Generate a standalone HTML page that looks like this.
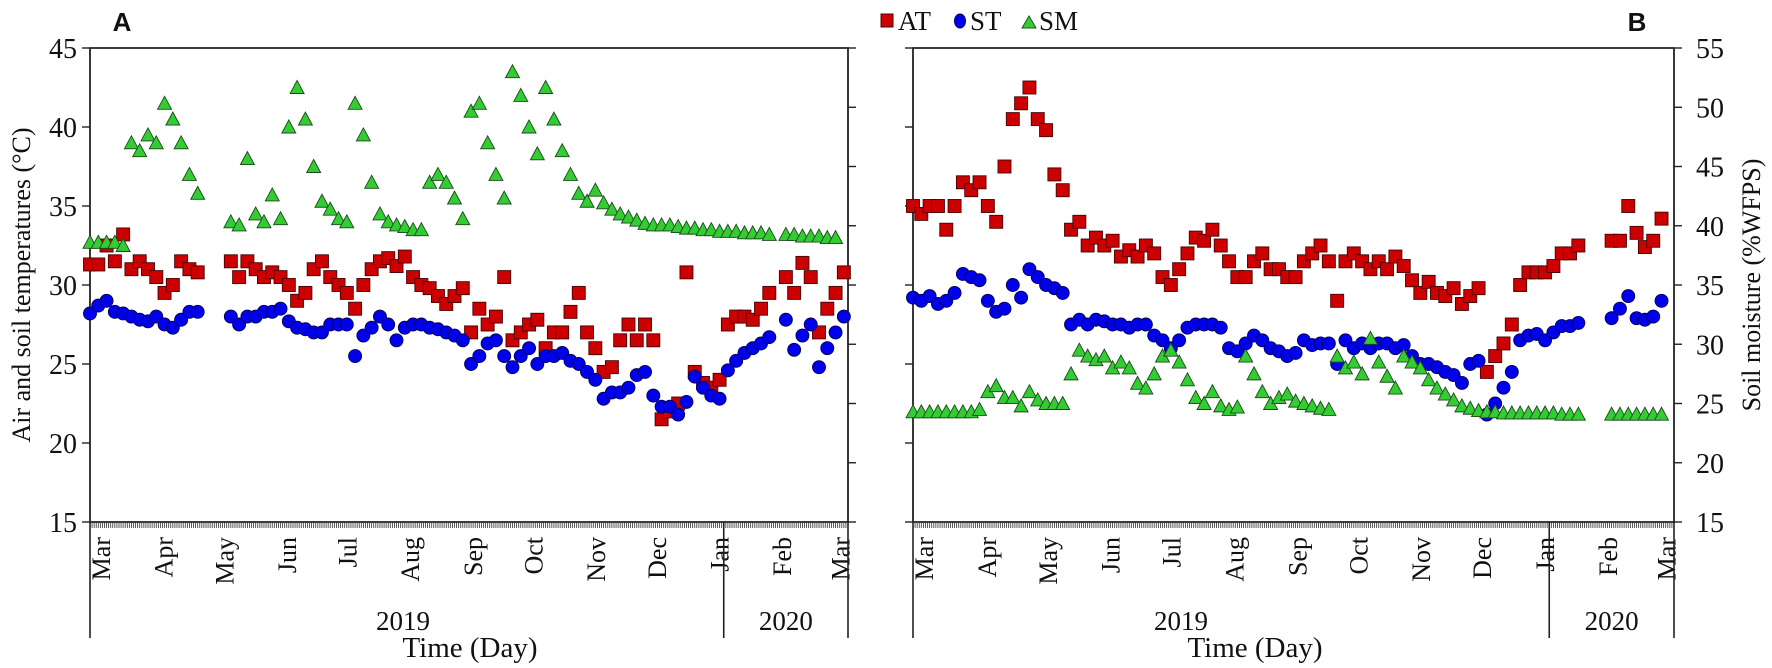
<!DOCTYPE html>
<html><head><meta charset="utf-8">
<style>
html,body{margin:0;padding:0;background:#fff;}
svg{display:block;}
text{font-family:"Liberation Serif",serif;fill:#111;}
</style></head>
<body>
<svg id="chart" width="1772" height="668" viewBox="0 0 1772 668" xmlns="http://www.w3.org/2000/svg">
  <text x="122" y="31" style="font-family:'Liberation Sans',sans-serif;font-weight:bold;font-size:26px" text-anchor="middle">A</text>
  <text x="1637" y="31" style="font-family:'Liberation Sans',sans-serif;font-weight:bold;font-size:26px" text-anchor="middle">B</text>
  <g>
    <rect x="881" y="14" width="12" height="13" fill="#cc0000" stroke="#550000" stroke-width="1"/>
    <text x="898" y="30" font-size="27">AT</text>
    <ellipse cx="960" cy="21" rx="5.5" ry="7" fill="#0000ee" stroke="#000066"/>
    <text x="970" y="30" font-size="27">ST</text>
    <polygon points="1022,28 1036,28 1029,16" fill="#33cc33" stroke="#1a5a1a"/>
    <text x="1039" y="30" font-size="27">SM</text>
  </g>
  <text transform="translate(30,285) rotate(-90)" text-anchor="middle" font-size="26">Air and soil temperatures (°C)</text>
  <text transform="translate(1760,285) rotate(-90)" text-anchor="middle" font-size="26">Soil moisture (%WFPS)</text>
  <g id="panels"></g>
</svg>
<script>
// ---- data (4-day sampling from Mar 1 2019) ----
var dayStep = 4;
var monthNames = ["Mar","Apr","May","Jun","Jul","Aug","Sep","Oct","Nov","Dec","Jan","Feb","Mar"];
var monthStarts = [0,31,61,92,122,153,184,214,245,275,306,337,366];
var tempTicks = [15,20,25,30,35,40,45];
var moistTicks = [15,20,25,30,35,40,45,50,55];
var n = null;
var aAT = [31.3,31.3,32.5,31.5,33.2,31,31.5,31,30.5,29.5,
 30,31.5,31,30.8,n,n,n,31.5,30.5,31.5,
 31,30.5,30.8,30.5,30,29,29.5,31,31.5,30.5,
 30,29.5,28.5,30,31,31.5,31.7,31.2,31.8,30.5,
 30,29.8,29.3,28.8,29.3,29.8,27,28.5,27.5,28,
 30.5,26.5,27,27.5,27.8,26,27,27,28.3,29.5,
 27,26,24.5,24.8,26.5,27.5,26.5,27.5,26.5,21.5,
 22,22.5,30.8,24.5,23.8,23.5,24,27.5,28,28,
 27.8,28.5,29.5,n,30.5,29.5,31.4,30.5,27,28.5,
 29.5,30.8];
var aST = [28.2,28.7,29,28.3,28.2,28,27.8,27.7,28,27.5,
 27.3,27.8,28.3,28.3,n,n,n,28,27.5,28,
 28,28.3,28.3,28.5,27.7,27.3,27.2,27,27,27.5,
 27.5,27.5,25.5,26.8,27.3,28,27.5,26.5,27.3,27.5,
 27.5,27.3,27.2,27,26.8,26.5,25,25.5,26.3,26.5,
 25.5,24.8,25.5,26,25,25.5,25.5,25.7,25.2,25,
 24.5,24,22.8,23.2,23.2,23.5,24.3,24.5,23,22.3,
 22.3,21.8,22.6,24.2,23.5,23,22.8,24.6,25.2,25.7,
 26,26.3,26.7,n,27.8,25.9,26.8,27.5,24.8,26,
 27,28];
var aSM = [32.7,32.7,32.7,32.7,32.5,39,38.5,39.5,39,41.5,
 40.5,39,37,35.8,n,n,n,34,33.8,38,
 34.5,34,35.7,34.2,40,42.5,40.5,37.5,35.3,34.8,
 34.2,34,41.5,39.5,36.5,34.5,34,33.8,33.7,33.5,
 33.5,36.5,37,36.5,35.5,34.2,41,41.5,39,37,
 35.5,43.5,42,40,38.3,42.5,40.5,38.5,37,35.8,
 35.3,36,35.2,34.8,34.5,34.3,34.1,33.9,33.8,33.8,
 33.8,33.7,33.6,33.6,33.5,33.5,33.4,33.4,33.4,33.3,
 33.3,33.3,33.2,n,33.2,33.2,33.1,33.1,33.1,33.0,
 33.0,n];
var bAT = [35,34.5,35,35,33.5,35,36.5,36,36.5,35,
 34,37.5,40.5,41.5,42.5,40.5,39.8,37,36,33.5,
 34,32.5,33,32.5,32.8,31.8,32.2,31.8,32.5,32,
 30.5,30,31,32,33,32.8,33.5,32.5,31.5,30.5,
 30.5,31.5,32,31,31,30.5,30.5,31.5,32,32.5,
 31.5,29,31.5,32,31.5,31,31.5,31,31.8,31.2,
 30.3,29.5,30.2,29.5,29.3,29.8,28.8,29.3,29.8,24.5,
 25.5,26.3,27.5,30,30.8,30.8,30.8,31.2,32,32,
 32.5,n,n,n,32.8,32.8,35,33.3,32.4,32.8,
 34.2,n];
var bST = [29.2,29,29.3,28.8,29,29.5,30.7,30.5,30.3,29,
 28.3,28.5,30,29.2,31,30.5,30,29.8,29.5,27.5,
 27.8,27.5,27.8,27.7,27.5,27.5,27.3,27.5,27.5,26.8,
 26.5,26,26.5,27.3,27.5,27.5,27.5,27.3,26,25.8,
 26.3,26.8,26.5,26,25.8,25.5,25.7,26.5,26.2,26.3,
 26.3,25,26.5,26,26.3,26,26.3,26.3,26,26.2,
 25.5,25,25,24.8,24.5,24.3,23.8,25,25.2,21.8,
 22.5,23.5,24.5,26.5,26.8,26.9,26.5,27,27.4,27.4,
 27.6,n,n,n,27.9,28.5,29.3,27.9,27.8,28,
 29,n];
var bSM = [24.3,24.3,24.3,24.3,24.3,24.3,24.3,24.3,24.5,26,
 26.5,25.5,25.5,24.8,26,25.3,25,25,25,27.5,
 29.5,29,28.7,29,28,28.5,28,26.7,26.3,27.5,
 29,29.5,28.5,27,25.5,25,26,24.8,24.5,24.7,
 29,27.5,26,25,25.5,25.8,25.2,25,24.8,24.6,
 24.5,29,28,28.5,27.5,30.5,28.5,27.3,26.3,29,
 28.5,28,27,26.3,25.8,25.3,24.8,24.6,24.4,24.3,
 24.3,24.2,24.2,24.2,24.2,24.2,24.2,24.2,24.1,24.1,
 24.1,n,n,n,24.1,24.1,24.1,24.1,24.1,24.1,
 24.1,n];

var NS = "http://www.w3.org/2000/svg";
var root = document.getElementById('panels');
function mk(tag, attrs, parent) {
  var e = document.createElementNS(NS, tag);
  for (var k in attrs) e.setAttribute(k, attrs[k]);
  (parent || root).appendChild(e);
  return e;
}
var TOP = 48, BOT = 522;
function yTemp(v) { return TOP + (45 - v) * (BOT - TOP) / 30; }
function yMoist(v) { return TOP + (55 - v) * (BOT - TOP) / 40; }

function drawPanel(p) {
  var g = mk('g', {});
  
  
  function xd(d) { return p.x0 + d * (p.x1 - p.x0) / 366; }
  var fr = mk('path', {d: 'M' + p.x0 + ' ' + BOT + 'V' + TOP + 'H' + p.x1 + 'V' + BOT + 'H' + p.x0, fill: 'none', stroke: '#222', 'stroke-width': 1.8}, g);
  
  
  var dp = '';
  for (var d = 0; d <= 366; d++) { var xx = xd(d).toFixed(2); dp += 'M' + xx + ' ' + BOT + 'V' + (BOT + 6); }
  var dt = mk('path', {d: dp, stroke: '#333', 'stroke-width': 0.8}, g);
  
  
  tempTicks.forEach(function (t) {
    var y = yTemp(t);
    var tk = mk('line', {x1: p.x0 - 8, x2: p.x0, y1: y, y2: y, stroke: '#222', 'stroke-width': 1.4}, g);
    
    
    if (p.leftLabels) {
      var tl = mk('text', {x: p.x0 - 13, y: y + 10, 'text-anchor': 'end', 'font-size': 28}, g);
      tl.textContent = t;
      
      
    }
  });
  moistTicks.forEach(function (t) {
    var y = yMoist(t);
    var tk = mk('line', {x1: p.x1, x2: p.x1 + 8, y1: y, y2: y, stroke: '#222', 'stroke-width': 1.4}, g);
    
    
    if (p.rightLabels) {
      var tl = mk('text', {x: p.x1 + 22, y: y + 10, 'font-size': 28}, g);
      tl.textContent = t;
      
      
    }
  });
  monthNames.forEach(function (m, i) {
    var d = monthStarts[i];
    var cx = xd(d) + 11 - d * 0.05;
    var tl = mk('text', {transform: 'translate(' + (cx + 9) + ',537) rotate(-90)', 'text-anchor': 'end', 'font-size': 26}, g);
    tl.textContent = m;
    
    
  });
  [0, 306, 366].forEach(function (d) {
    var l = mk('line', {x1: xd(d), x2: xd(d), y1: BOT, y2: 638, stroke: '#222', 'stroke-width': 1.6}, g);
    
    
  });
  var y1 = mk('text', {x: p.y2019x, y: 630, 'text-anchor': 'middle', 'font-size': 27}, g);
  y1.textContent = '2019';
  
  
  var y2 = mk('text', {x: (xd(306) + xd(366)) / 2, y: 630, 'text-anchor': 'middle', 'font-size': 27}, g);
  y2.textContent = '2020';
  
  
  var xt = mk('text', {x: p.timeX, y: 657, 'text-anchor': 'middle', 'font-size': 29}, g);
  xt.textContent = 'Time (Day)';
  
  

  p.at.forEach(function (v, i) {
    if (v === null) return;
    var x = xd(i * dayStep), y = yTemp(v);
    var r = mk('rect', {x: x - 6.5, y: y - 6.5, width: 13, height: 13, fill: '#cc0000', stroke: '#4a0000', 'stroke-width': 0.9}, g);
    
    
  });
  p.st.forEach(function (v, i) {
    if (v === null) return;
    var x = xd(i * dayStep), y = yTemp(v);
    var c = mk('circle', {cx: x, cy: y, r: 6.5, fill: '#0000ee', stroke: '#000055', 'stroke-width': 0.9}, g);
    
    
  });
  p.sm.forEach(function (v, i) {
    if (v === null) return;
    var x = xd(i * dayStep), y = p.smScale(v);
    var t = mk('polygon', {points: (x - 7) + ',' + (y + 6) + ' ' + (x + 7) + ',' + (y + 6) + ' ' + x + ',' + (y - 7), fill: '#33cc33', stroke: '#1a4a1a', 'stroke-width': 0.9}, g);
    
    
  });
}

drawPanel({name: 'panel-a', x0: 90, x1: 848, leftLabels: true, rightLabels: false,
  at: aAT, st: aST, sm: aSM, smScale: yTemp, y2019x: 403, timeX: 470});
drawPanel({name: 'panel-b', x0: 913, x1: 1674, leftLabels: false, rightLabels: true,
  at: bAT, st: bST, sm: bSM, smScale: yMoist, y2019x: 1181, timeX: 1255});
</script>
</body></html>
